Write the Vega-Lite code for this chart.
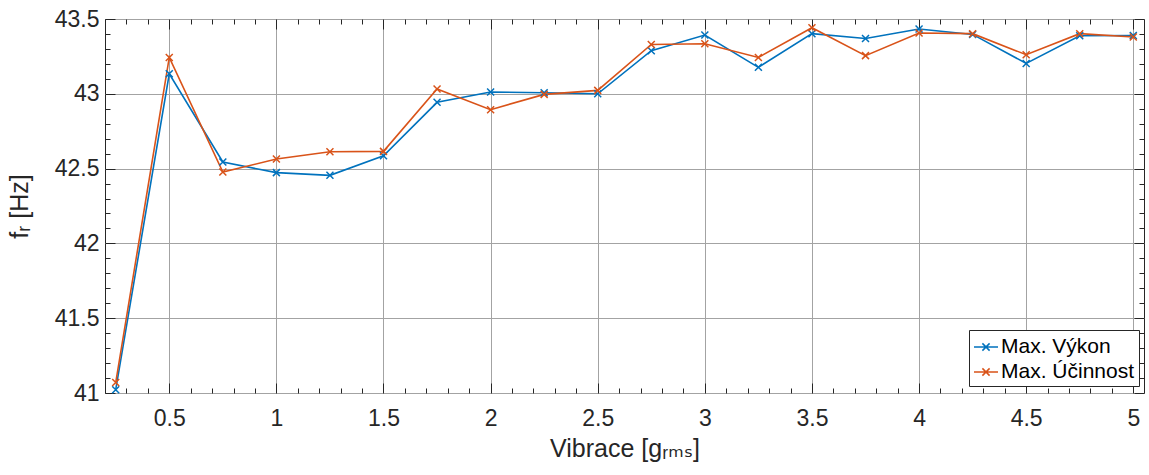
{
  "$schema": "https://vega.github.io/schema/vega-lite/v6.json",
  "width": 1039,
  "height": 374,
  "autosize": {"type": "none"},
  "padding": {"left": 105, "top": 19, "right": 5, "bottom": 82},
  "background": "white",
  "config": {
    "font": "Liberation Sans, DejaVu Sans",
    "view": {"stroke": "#262626", "strokeWidth": 1},
    "axis": {"labelColor": "#262626", "titleColor": "#262626", "tickColor": "#262626", "labelFont": "Liberation Sans", "titleFont": "Liberation Sans, DejaVu Sans", "titleFontWeight": "normal"},
    "legend": {
      "orient": "none", "legendX": 864, "legendY": 311,
      "strokeColor": "#262626", "fillColor": "white", "padding": 4, "cornerRadius": 0,
      "labelFontSize": 21, "labelColor": "#000000", "labelFont": "Liberation Sans",
      "symbolType": "M-1,0H1M-0.3,-0.3L0.3,0.3M-0.3,0.3L0.3,-0.3",
      "symbolSize": 576, "symbolStrokeWidth": 1.5, "labelOffset": 2, "rowPadding": 2
    }
  },
  "data": {"values": [
    {"x": 0.25, "f": 41.022, "s": "Max. Výkon"},
    {"x": 0.5, "f": 43.134, "s": "Max. Výkon"},
    {"x": 0.75, "f": 42.544, "s": "Max. Výkon"},
    {"x": 1.0, "f": 42.473, "s": "Max. Výkon"},
    {"x": 1.25, "f": 42.455, "s": "Max. Výkon"},
    {"x": 1.5, "f": 42.586, "s": "Max. Výkon"},
    {"x": 1.75, "f": 42.943, "s": "Max. Výkon"},
    {"x": 2.0, "f": 43.012, "s": "Max. Výkon"},
    {"x": 2.25, "f": 43.007, "s": "Max. Výkon"},
    {"x": 2.5, "f": 43.0, "s": "Max. Výkon"},
    {"x": 2.75, "f": 43.288, "s": "Max. Výkon"},
    {"x": 3.0, "f": 43.393, "s": "Max. Výkon"},
    {"x": 3.25, "f": 43.177, "s": "Max. Výkon"},
    {"x": 3.5, "f": 43.402, "s": "Max. Výkon"},
    {"x": 3.75, "f": 43.37, "s": "Max. Výkon"},
    {"x": 4.0, "f": 43.433, "s": "Max. Výkon"},
    {"x": 4.25, "f": 43.397, "s": "Max. Výkon"},
    {"x": 4.5, "f": 43.203, "s": "Max. Výkon"},
    {"x": 4.75, "f": 43.388, "s": "Max. Výkon"},
    {"x": 5.0, "f": 43.39, "s": "Max. Výkon"},
    {"x": 0.25, "f": 41.07, "s": "Max. Účinnost"},
    {"x": 0.5, "f": 43.243, "s": "Max. Účinnost"},
    {"x": 0.75, "f": 42.477, "s": "Max. Účinnost"},
    {"x": 1.0, "f": 42.564, "s": "Max. Účinnost"},
    {"x": 1.25, "f": 42.613, "s": "Max. Účinnost"},
    {"x": 1.5, "f": 42.615, "s": "Max. Účinnost"},
    {"x": 1.75, "f": 43.032, "s": "Max. Účinnost"},
    {"x": 2.0, "f": 42.894, "s": "Max. Účinnost"},
    {"x": 2.25, "f": 42.996, "s": "Max. Účinnost"},
    {"x": 2.5, "f": 43.023, "s": "Max. Účinnost"},
    {"x": 2.75, "f": 43.33, "s": "Max. Účinnost"},
    {"x": 3.0, "f": 43.335, "s": "Max. Účinnost"},
    {"x": 3.25, "f": 43.243, "s": "Max. Účinnost"},
    {"x": 3.5, "f": 43.442, "s": "Max. Účinnost"},
    {"x": 3.75, "f": 43.255, "s": "Max. Účinnost"},
    {"x": 4.0, "f": 43.406, "s": "Max. Účinnost"},
    {"x": 4.25, "f": 43.402, "s": "Max. Účinnost"},
    {"x": 4.5, "f": 43.261, "s": "Max. Účinnost"},
    {"x": 4.75, "f": 43.402, "s": "Max. Účinnost"},
    {"x": 5.0, "f": 43.38, "s": "Max. Účinnost"}
  ]},
  "resolve": {"axis": {"x": "independent", "y": "independent"}},
  "layer": [
    {
      "mark": {"type": "line", "strokeWidth": 1.6, "clip": false},
      "encoding": {
        "x": {"field": "x", "type": "quantitative", "scale": {"domain": [0.2, 5.05], "nice": false, "zero": false},
          "axis": {"orient": "bottom", "values": [0.5, 1, 1.5, 2, 2.5, 3, 3.5, 4, 4.5, 5], "format": "~g", "ticks": false, "domain": false,
            "grid": true, "gridColor": "#a3a3a3", "gridWidth": 1, "gridOpacity": 1,
            "labelFontSize": 23, "labelPadding": 32, "labelBaseline": "alphabetic", "labelFlush": false,
            "title": "Vibrace [gᵣₘₛ]", "titleFontSize": 25, "titleX": 519.5, "titleY": 63.5, "titleBaseline": "alphabetic", "titleAlign": "center"}},
        "y": {"field": "f", "type": "quantitative", "scale": {"domain": [41, 43.5], "nice": false, "zero": false},
          "axis": {"orient": "left", "values": [41, 41.5, 42, 42.5, 43, 43.5], "format": "~g", "ticks": false, "domain": false,
            "grid": true, "gridColor": "#a3a3a3", "gridWidth": 1, "gridOpacity": 1,
            "labelFontSize": 23, "labelPadding": 6, "labelBaseline": "middle", "labelFlush": false,
            "title": "fᵣ [Hz]", "titleFontSize": 25, "titleX": -78, "titleY": 187, "titleAngle": -90, "titleBaseline": "alphabetic", "titleAlign": "center"}},
        "color": {"field": "s", "type": "nominal", "sort": null,
          "scale": {"domain": ["Max. Výkon", "Max. Účinnost"], "range": ["#0072BD", "#D95319"]},
          "legend": {"title": null}},
        "order": {"field": "x", "type": "quantitative"}
      }
    },
    {
      "mark": {"type": "point", "shape": "M-1,-1L1,1M-1,1L1,-1", "filled": false, "size": 49, "strokeWidth": 1.5, "opacity": 1, "clip": false},
      "encoding": {
        "x": {"field": "x", "type": "quantitative",
          "axis": {"orient": "bottom", "values": [0.2,0.3,0.4,0.5,0.6,0.7,0.8,0.9,1,1.1,1.2,1.3,1.4,1.5,1.6,1.7,1.8,1.9,2,2.1,2.2,2.3,2.4,2.5,2.6,2.7,2.8,2.9,3,3.1,3.2,3.3,3.4,3.5,3.6,3.7,3.8,3.9,4,4.1,4.2,4.3,4.4,4.5,4.6,4.7,4.8,4.9,5],
            "labels": false, "grid": false, "domain": false, "title": null, "ticks": true, "tickWidth": 1,
            "tickSize": {"condition": {"test": "abs(datum.value*2 - round(datum.value*2)) < 0.000001", "value": -10}, "value": -5}}},
        "y": {"field": "f", "type": "quantitative",
          "axis": {"orient": "left", "values": [41,41.1,41.2,41.3,41.4,41.5,41.6,41.7,41.8,41.9,42,42.1,42.2,42.3,42.4,42.5,42.6,42.7,42.8,42.9,43,43.1,43.2,43.3,43.4,43.5],
            "labels": false, "grid": false, "domain": false, "title": null, "ticks": true, "tickWidth": 1,
            "tickSize": {"condition": {"test": "abs(datum.value*2 - round(datum.value*2)) < 0.000001", "value": -10}, "value": -5}}},
        "color": {"field": "s", "type": "nominal", "sort": null}
      }
    },
    {
      "mark": {"type": "point", "opacity": 0},
      "encoding": {
        "x": {"field": "x", "type": "quantitative",
          "axis": {"orient": "top", "values": [0.2,0.3,0.4,0.5,0.6,0.7,0.8,0.9,1,1.1,1.2,1.3,1.4,1.5,1.6,1.7,1.8,1.9,2,2.1,2.2,2.3,2.4,2.5,2.6,2.7,2.8,2.9,3,3.1,3.2,3.3,3.4,3.5,3.6,3.7,3.8,3.9,4,4.1,4.2,4.3,4.4,4.5,4.6,4.7,4.8,4.9,5],
            "labels": false, "grid": false, "domain": false, "title": null, "ticks": true, "tickWidth": 1,
            "tickSize": {"condition": {"test": "abs(datum.value*2 - round(datum.value*2)) < 0.000001", "value": -10}, "value": -5}}},
        "y": {"field": "f", "type": "quantitative",
          "axis": {"orient": "right", "values": [41,41.1,41.2,41.3,41.4,41.5,41.6,41.7,41.8,41.9,42,42.1,42.2,42.3,42.4,42.5,42.6,42.7,42.8,42.9,43,43.1,43.2,43.3,43.4,43.5],
            "labels": false, "grid": false, "domain": false, "title": null, "ticks": true, "tickWidth": 1,
            "tickSize": {"condition": {"test": "abs(datum.value*2 - round(datum.value*2)) < 0.000001", "value": -10}, "value": -5}}}
      }
    }
  ]
}
